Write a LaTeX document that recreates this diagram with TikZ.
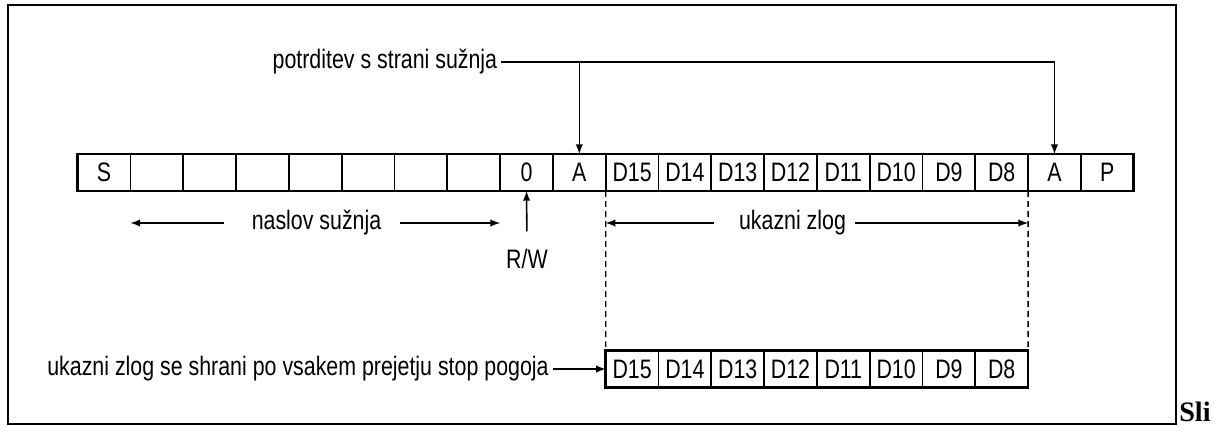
\documentclass[tikz,border=0pt]{standalone}
\usepackage{fontspec}
\setmainfont{Liberation Sans}[FakeStretch=0.8]
\newfontfamily\slifont{Liberation Serif}
\usepackage{tikz}
\usetikzlibrary{calc,arrows}

\tikzset{
  cell/.style={draw, line width=1pt, minimum width=10.56mm, minimum height=7.4mm, inner sep=0, outer sep=0, font=\fontsize{15.2}{18}\selectfont},
  lbl/.style={inner sep=2pt, font=\fontsize{15.2}{18}\selectfont},
  arr/.style={->, line width=0.9pt},
  guide/.style={line width=0.8pt, dash pattern=on 3.4pt off 2.3pt}
}

\begin{document}
\begin{tikzpicture}[x=0.2mm, y=-0.2mm, >=latex]

\useasboundingbox (0,0) rectangle (1218,426);
\draw[line width=1.1pt] (8,5) rectangle (1176,424);

\foreach \t [count=\i] in {S,{},{},{},{},{},{},{},0,A,D15,D14,D13,D12,D11,D10,D9,D8,A,P}
  \node[cell] (t\i) at ({77.7+(\i-0.5)*52.8},172.5) {\t};
\foreach \t [count=\i] in {D15,D14,D13,D12,D11,D10,D9,D8}
  \node[cell] (b\i) at ({605.7+(\i-0.5)*52.8},369) {\t};

\draw[line width=1.5pt] (t1.north west) rectangle (t20.south east);
\draw[line width=1.5pt] (b1.north west) rectangle (b8.south east);

\node[lbl, anchor=east] (ack) at (501,62) {potrditev s strani sužnja};
\draw[arr] (ack.east) -| (t10.north);
\draw[arr] (ack.east) -| (t19.north);

\node[lbl] (addr) at (316.5,223) {naslov sužnja};
\draw[arr, shorten <=4.8mm] (addr.west) -- (addr.west -| t2.west);
\draw[arr, shorten <=2.9mm] (addr.east) -- (addr.east -| t9.west);

\node[lbl] (rw) at (527,259) {R/W};
\draw[arr, shorten <=2.8mm] (rw.north) -- (t9.south);

\draw[guide] (t11.south west) -- (b1.north west);
\draw[guide] (t18.south east) -- (b8.north east);

\node[lbl] (op) at (792.5,223) {ukazni zlog};
\draw[arr, shorten <=4.3mm] (op.west) -- (op.west -| t11.west);
\draw[arr, shorten <=1.1mm] (op.east) -- (op.east -| t18.east);

\node[lbl, anchor=east] (store) at (552.5,369) {ukazni zlog se shrani po vsakem prejetju stop pogoja};
\draw[arr] (store.east) -- (b1.west);

\node[anchor=base west, inner sep=0, font=\fontsize{16}{20}\selectfont\slifont\bfseries] (sli) at (1179,421) {Sli};

\end{tikzpicture}
\end{document}
